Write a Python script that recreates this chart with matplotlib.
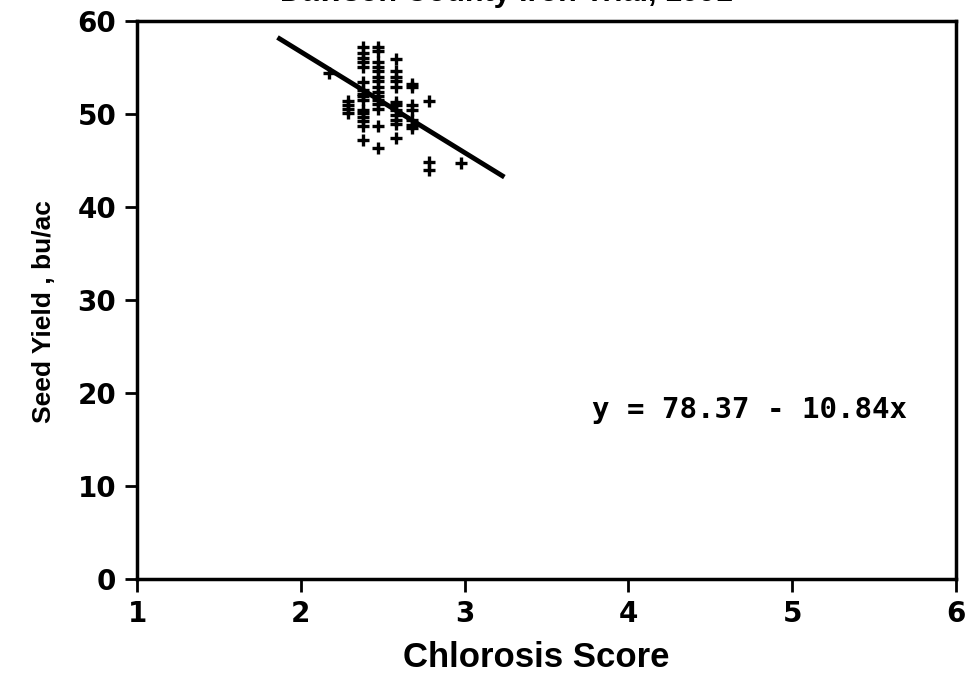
import numpy as np
import matplotlib
matplotlib.use("Agg")
import matplotlib.pyplot as plt

# chlorosis score for each column of plots, and the seed yields measured at that score
score_cols = [2.17, 2.29, 2.38, 2.47, 2.58, 2.68, 2.78, 2.98]
yield_cols = [
    [54.4],
    [51.4, 51.0, 50.5, 50.1],
    [57.2, 56.6, 56.0, 55.6, 55.1, 53.4, 52.6, 52.2, 51.9, 51.5, 50.4, 50.1, 49.7, 49.2, 48.7, 47.2],
    [57.2, 56.8, 55.6, 55.1, 54.6, 54.0, 53.5, 52.9, 52.4, 51.9, 51.5, 51.1, 50.5, 48.7, 46.3],
    [55.9, 54.6, 54.0, 53.5, 52.9, 51.3, 51.0, 50.4, 49.9, 49.4, 48.9, 47.4],
    [53.2, 52.9, 51.0, 50.4, 49.4, 48.8, 48.5],
    [51.4, 44.8, 44.0],
    [44.7],
]

# fitted regression
intercept = 78.37
slope = -10.84
fit_range = [1.87, 3.23]

x_ticks = [1, 2, 3, 4, 5, 6]
y_ticks = [0, 10, 20, 30, 40, 50, 60]

title = "Dawson County Iron Trial, 1991"

xs = np.concatenate([[s] * len(ys) for s, ys in zip(score_cols, yield_cols)])
ys = np.concatenate(yield_cols)

fig = plt.figure(figsize=(9.74, 6.94), dpi=100)
ax = fig.add_axes([0.1407, 0.1657, 0.8408, 0.804])

ax.plot(xs, ys, linestyle="none", marker="+", color="black",
        markersize=9, markeredgewidth=2.4)

fx = np.array(fit_range)
ax.plot(fx, intercept + slope * fx, color="black", linewidth=3.5)

ax.text(3.78, 18.2, f"y = {intercept:.2f} - {abs(slope):.2f}x",
        family="DejaVu Sans Mono", fontweight="bold", fontsize=21,
        ha="left", va="center")

ax.set_xlim(1, 6)
ax.set_ylim(0, 60)
ax.set_xticks(x_ticks)
ax.set_yticks(y_ticks)
for lab in ax.get_xticklabels() + ax.get_yticklabels():
    lab.set_family("DejaVu Sans")
    lab.set_fontweight("bold")
    lab.set_fontsize(20)
ax.tick_params(direction="out", length=9, width=2, pad=6)

for sp in ax.spines.values():
    sp.set_linewidth(2.5)

ax.set_xlabel("Chlorosis Score", family="Liberation Sans",
              fontweight="bold", fontsize=25)
ax.xaxis.set_label_coords(0.487, -0.112)
ax.set_ylabel("Seed Yield , bu/ac", family="Liberation Sans",
              fontweight="bold", fontsize=19)
ax.yaxis.set_label_coords(-0.099, 0.48)

fig.text(0.52, 1 - 8 / 694, title, family="Liberation Sans",
         fontweight="bold", fontsize=22, ha="center", va="bottom")

fig.savefig("out.png", dpi=100)
